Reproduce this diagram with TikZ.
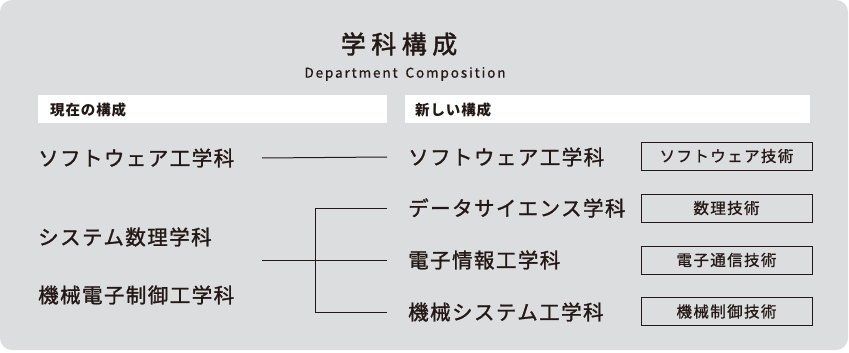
\documentclass[tikz,border=0pt]{standalone}
\usepackage{fontspec}
\usetikzlibrary{positioning}
\newfontfamily\jpfont{Noto Sans CJK JP}
\definecolor{panelgray}{HTML}{DCDDDF}
\definecolor{inkcol}{HTML}{231815}
\newcommand{\rowfont}{\jpfont\addfontfeatures{LetterSpace=7,FakeBold=1.3}\fontsize{20.5}{24}\selectfont}
\newcommand{\tagfont}{\jpfont\addfontfeatures{LetterSpace=9,FakeBold=0.9}\fontsize{15.5}{18}\selectfont}

\begin{document}
\begin{tikzpicture}[x=1pt, y=-1pt, inner sep=0pt, text=inkcol,
  old/.style={anchor=west, font=\rowfont},
  new/.style={anchor=west, font=\rowfont},
  techbox/.style={draw=inkcol, line width=1pt, minimum width=171pt, minimum height=28pt, font=\tagfont},
  headbar/.style={fill=white, minimum height=28pt, anchor=north west},
  link/.style={draw=inkcol, line width=1pt}]
  \useasboundingbox (0,0) rectangle (849,353);
  \fill[panelgray, rounded corners=12pt] (0,0) rectangle (848,350);
  % title
  \node[font={\jpfont\addfontfeatures{LetterSpace=22,FakeBold=1.6}\fontsize{25}{28}\selectfont}] (title) at (399,44) {学科構成};
  \node[font={\jpfont\addfontfeatures{LetterSpace=14,FakeBold=0.6}\fontsize{13.5}{15}\selectfont}] (subtitle) at (405,74) {Department\hspace{3pt} Composition};
  % header bars
  \node[headbar, minimum width=349pt] (nowbar) at (38,95) {};
  \node[headbar, minimum width=405pt] (newbar) at (405,95) {};
  \node[anchor=west, font={\jpfont\addfontfeatures{LetterSpace=6}\bfseries\fontsize{14.5}{16}\selectfont}] (nowhead) at (50,109.5) {現在の構成};
  \node[anchor=west, font={\jpfont\addfontfeatures{LetterSpace=6}\bfseries\fontsize{14.5}{16}\selectfont}] (newhead) at (415,109.5) {新しい構成};
  % present departments
  \node[old] (softold) at (38,158) {ソフトウェア工学科};
  \node[old] (sysold) at (38,237) {システム数理学科};
  \node[old] (mechold) at (38,295) {機械電子制御工学科};
  % new departments
  \node[new] (softnew) at (408,157) {ソフトウェア工学科};
  \node[new] (datanew) at (408,208) {データサイエンス学科};
  \node[new] (elecnew) at (408,260) {電子情報工学科};
  \node[new] (mechnew) at (408,312) {機械システム工学科};
  % technology boxes
  \node[techbox] (softtech) at (726.5,156) {ソフトウェア技術};
  \node[techbox] (mathtech) at (726.5,208) {数理技術};
  \node[techbox] (electech) at (726.5,260) {電子通信技術};
  \node[techbox] (mechtech) at (726.5,311.5) {機械制御技術};
  % connectors
  \coordinate (merge) at (262,260);
  \coordinate (fork) at (315,260);
  \draw[link] (softold.east -| merge) -- ([xshift=-21pt]softnew.west);
  \draw[link] (merge) -- ([xshift=-21pt]elecnew.west);
  \draw[link] (fork) |- ([xshift=-21pt]datanew.west);
  \draw[link] (fork) |- ([xshift=-21pt]mechnew.west);
\end{tikzpicture}
\end{document}
